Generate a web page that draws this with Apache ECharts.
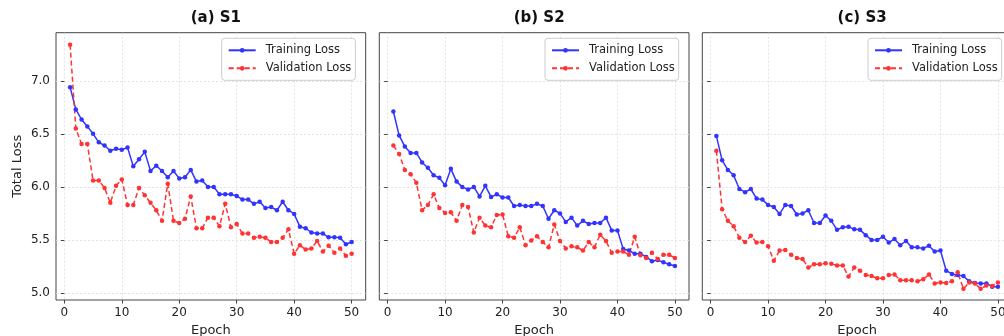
<!DOCTYPE html>
<html>
<head>
<meta charset="utf-8">
<script src="https://cdn.jsdelivr.net/npm/echarts@6/dist/echarts.min.js"></script>
<style>
  html, body { margin: 0; padding: 0; background: #fff; }
  #chart { width: 1004px; height: 336px; }
</style>
</head>
<body>
<div id="chart"></div>
<script>
const panelTitles = ["(a) S1", "(b) S2", "(c) S3"];
const epochs = Array.from({ length: 50 }, (_, i) => i + 1);
const xTicks = [0, 10, 20, 30, 40, 50];
const yTicks = [5.0, 5.5, 6.0, 6.5, 7.0];

const trainS1 = [6.94, 6.73, 6.635, 6.57, 6.50, 6.42, 6.39, 6.34, 6.36, 6.35,
  6.37, 6.195, 6.26, 6.33, 6.15, 6.20, 6.15, 6.09, 6.15, 6.08,
  6.09, 6.16, 6.05, 6.06, 6.00, 6.00, 5.93, 5.93, 5.93, 5.915,
  5.88, 5.88, 5.84, 5.86, 5.80, 5.81, 5.78, 5.86, 5.78, 5.745,
  5.625, 5.61, 5.57, 5.56, 5.56, 5.525, 5.525, 5.52, 5.46, 5.48];
const valS1 = [7.34, 6.55, 6.405, 6.405, 6.06, 6.06, 5.99, 5.85, 6.01, 6.07,
  5.83, 5.83, 5.99, 5.92, 5.85, 5.78, 5.68, 6.03, 5.68, 5.66,
  5.70, 5.91, 5.61, 5.61, 5.71, 5.71, 5.63, 5.84, 5.62, 5.65,
  5.56, 5.56, 5.52, 5.53, 5.52, 5.48, 5.48, 5.52, 5.60, 5.37,
  5.45, 5.41, 5.42, 5.49, 5.39, 5.445, 5.38, 5.42, 5.35, 5.37];

const trainS2 = [6.71, 6.485, 6.38, 6.32, 6.32, 6.23, 6.18, 6.11, 6.085, 6.015,
  6.17, 6.05, 6.00, 5.975, 6.00, 5.91, 6.01, 5.905, 5.93, 5.90,
  5.90, 5.82, 5.83, 5.82, 5.82, 5.84, 5.82, 5.70, 5.78, 5.75,
  5.67, 5.71, 5.635, 5.68, 5.65, 5.66, 5.66, 5.71, 5.59, 5.59,
  5.415, 5.40, 5.37, 5.37, 5.34, 5.30, 5.31, 5.29, 5.27, 5.255];
const valS2 = [6.39, 6.31, 6.16, 6.12, 6.04, 5.78, 5.83, 5.93, 5.80, 5.755,
  5.76, 5.68, 5.83, 5.81, 5.57, 5.71, 5.635, 5.62, 5.735, 5.74,
  5.535, 5.52, 5.62, 5.45, 5.495, 5.535, 5.48, 5.43, 5.645, 5.49,
  5.42, 5.44, 5.43, 5.40, 5.48, 5.43, 5.55, 5.49, 5.38, 5.39,
  5.39, 5.36, 5.53, 5.355, 5.33, 5.38, 5.32, 5.36, 5.36, 5.33];

const trainS3 = [6.48, 6.25, 6.16, 6.11, 5.98, 5.95, 5.98, 5.89, 5.88, 5.83,
  5.81, 5.745, 5.83, 5.82, 5.74, 5.75, 5.78, 5.66, 5.66, 5.73,
  5.68, 5.595, 5.62, 5.625, 5.60, 5.595, 5.545, 5.50, 5.50, 5.53,
  5.475, 5.51, 5.45, 5.49, 5.43, 5.43, 5.42, 5.445, 5.39, 5.40,
  5.21, 5.18, 5.17, 5.16, 5.11, 5.095, 5.09, 5.09, 5.06, 5.06];
const valS3 = [6.34, 5.79, 5.68, 5.63, 5.52, 5.48, 5.54, 5.475, 5.48, 5.44,
  5.305, 5.40, 5.405, 5.36, 5.33, 5.32, 5.24, 5.27, 5.27, 5.28,
  5.275, 5.26, 5.26, 5.155, 5.24, 5.21, 5.17, 5.16, 5.14, 5.14,
  5.17, 5.175, 5.12, 5.12, 5.12, 5.11, 5.13, 5.175, 5.09, 5.10,
  5.095, 5.11, 5.195, 5.04, 5.10, 5.09, 5.04, 5.07, 5.065, 5.10];

const trainSets = [trainS1, trainS2, trainS3];
const valSets = [valS1, valS2, valS3];

const FONT = "DejaVu Sans";
const BLUE = "#3333ff";
const RED = "#ff3333";
const gridLefts = [56, 379.3, 702.3];
const gridWidth = 309.7;

const chart = echarts.init(document.getElementById("chart"), null, { renderer: "canvas" });

const pairs = (vals) => epochs.map((e, i) => [e, vals[i]]);

// outerBoundsMode none: panel 3 runs past the right edge like the original
const grids = gridLefts.map((left) => ({
  left: left, top: 32.7, width: gridWidth, height: 267.3,
  outerBoundsMode: "none", containLabel: false,
  show: true, borderColor: "#444", borderWidth: 1, backgroundColor: "transparent"
}));

const splitStyle = { show: true, lineStyle: { color: "#dcdcdc", type: [2, 2], width: 0.8 } };

const xAxes = gridLefts.map((_, i) => ({
  type: "value", gridIndex: i, min: -1.45, max: 52.45,
  name: "Epoch", nameLocation: "middle", nameGap: 23,
  nameTextStyle: { fontFamily: FONT, fontSize: 13, color: "#222" },
  axisLine: { show: false },
  axisTick: { show: true, length: 3.5, customValues: xTicks, lineStyle: { color: "#444" } },
  axisLabel: { customValues: xTicks, margin: 7, fontFamily: FONT, fontSize: 12, color: "#222" },
  splitLine: splitStyle
}));

const yAxes = gridLefts.map((_, i) => ({
  type: "value", gridIndex: i, min: 4.934, max: 7.453,
  name: i === 0 ? "Total Loss" : "", nameLocation: "middle", nameGap: 32, nameRotate: 90,
  nameTextStyle: { fontFamily: FONT, fontSize: 13, color: "#222" },
  axisLine: { show: false },
  axisTick: { show: true, length: 3.5, customValues: yTicks, lineStyle: { color: "#444" } },
  axisLabel: {
    show: i === 0, customValues: yTicks, margin: 6, fontFamily: FONT, fontSize: 12, color: "#222",
    formatter: (v) => v.toFixed(1)
  },
  splitLine: splitStyle
}));

const series = [];
gridLefts.forEach((_, i) => {
  series.push({
    name: "Training Loss", type: "line", xAxisIndex: i, yAxisIndex: i,
    data: pairs(trainSets[i]), symbol: "circle", symbolSize: 4.5, showSymbol: true,
    lineStyle: { color: BLUE, width: 1.5 }, itemStyle: { color: BLUE }
  });
  series.push({
    name: "Validation Loss", type: "line", xAxisIndex: i, yAxisIndex: i,
    data: pairs(valSets[i]), symbol: "circle", symbolSize: 4.5, showSymbol: true,
    lineStyle: { color: RED, width: 1.5, type: [5, 3] }, itemStyle: { color: RED }
  });
});

const legends = gridLefts.map((left) => ({
  data: ["Training Loss", "Validation Loss"],
  left: left + 165.7, top: 38.3, orient: "vertical", align: "left",
  itemWidth: 27, itemHeight: 6, itemGap: 4,
  padding: [5, 4, 5, 6],
  backgroundColor: "rgba(255,255,255,0.8)", borderColor: "#cccccc", borderWidth: 1, borderRadius: 3,
  textStyle: { fontFamily: FONT, fontSize: 11.5, color: "#222", padding: [0, 0, 0, 5], lineHeight: 14 }
}));

const titles = gridLefts.map((left, i) => ({
  text: panelTitles[i], left: left + gridWidth / 2, top: 6, textAlign: "center",
  textStyle: { fontFamily: FONT, fontSize: 15, fontWeight: "bold", color: "#111" }
}));

chart.setOption({
  animation: false,
  backgroundColor: "#ffffff",
  title: titles,
  legend: legends,
  grid: grids,
  xAxis: xAxes,
  yAxis: yAxes,
  series: series
});
</script>
</body>
</html>
